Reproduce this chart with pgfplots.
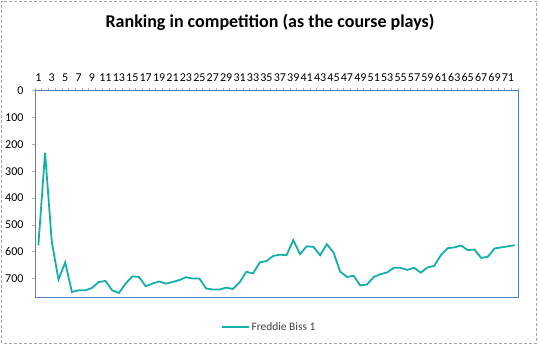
\documentclass[border=0pt]{standalone}
\usepackage{pgfplots}
\pgfplotsset{compat=1.18}
\usepackage{fontspec}
\setmainfont{Carlito}
\definecolor{serteal}{RGB}{20,176,168}
\definecolor{frameblue}{RGB}{79,129,189}
\definecolor{txtgray}{RGB}{64,64,64}
\begin{document}
\begin{tikzpicture}[x=1pt,y=1pt]
\path (0,0) rectangle (539,348);
\draw[gray!70, densely dashed, line width=0.8pt] (1.5,4.5) rectangle (536.5,347);
\node[font=\fontsize{18}{20}\selectfont\bfseries] at (270,326) {Ranking in competition (as the course plays)};
\begin{axis}[
  at={(35pt,50.7pt)}, anchor=south west,
  scale only axis, width=483pt, height=206.6pt,
  xmin=0.5, xmax=72.5, ymin=0, ymax=770,
  y dir=reverse,
  axis line style={frameblue, line width=0.8pt},
  xtick={1,3,...,71},
  minor xtick={0.5,1.5,...,72.5},
  xticklabel pos=upper,
  x tick label style={font=\fontsize{12}{14}\selectfont, inner xsep=0pt, yshift=3pt},
  major x tick style={draw=none},
  minor x tick style={gray!60, line width=0.5pt},
  minor tick length=3pt,
  tick align=outside,
  xtick pos=upper,
  ytick={0,100,...,700},
  major y tick style={gray!60, line width=0.5pt},
  major tick length=3pt,
  ytick pos=left,
  y tick label style={font=\fontsize{12}{14}\selectfont, anchor=east, xshift=-5pt},
  /pgf/number format/assume math mode=true,
  /pgf/number format/1000 sep={},
  legend style={at={(0.485,-0.144)}, anchor=center, draw=none, font=\fontsize{11.4}{13}\selectfont\color{txtgray}, legend cell align=left},
  legend image code/.code={\draw[#1, line width=1.5pt] (0pt,0pt) -- (27pt,0pt);},
]
\addplot[serteal, line width=1.8pt] coordinates {
(1,576)(2,231)(3,563)(4,704)(5,640)(6,750)(7,744)(8,744)(9,735)(10,713)
(11,709)(12,744)(13,754)(14,719)(15,692)(16,694)(17,729)(18,719)(19,711)(20,719)
(21,713)(22,706)(23,695)(24,700)(25,700)(26,737)(27,741)(28,741)(29,734)(30,739)
(31,714)(32,675)(33,681)(34,640)(35,635)(36,616)(37,611)(38,613)(39,557)(40,609)
(41,580)(42,582)(43,613)(44,572)(45,603)(46,675)(47,694)(48,690)(49,726)(50,722)
(51,694)(52,684)(53,677)(54,660)(55,660)(56,668)(57,660)(58,678)(59,659)(60,653)
(61,613)(62,587)(63,584)(64,577)(65,594)(66,592)(67,623)(68,619)(69,588)(70,584)
(71,580)(72,576)
};
\addlegendentry{Freddie Biss 1}
\end{axis}
\end{tikzpicture}
\end{document}
